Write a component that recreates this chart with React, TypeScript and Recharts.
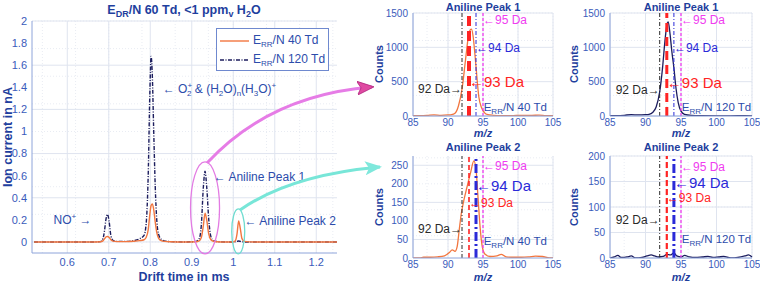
import React from "react";
import {
  LineChart,
  Line,
  XAxis,
  YAxis,
  CartesianGrid,
  ReferenceLine,
  ReferenceDot,
  Legend,
} from "recharts";

const FONT = '"Liberation Sans", Arial, Helvetica, sans-serif';
const TICK = "#3a5bbb";
const LABEL = "#1f3f9e";
const NOTE = "#2c4cab";
const BOX = "#8ea4da";
const GRID = "#dfe4ef";
const GRID_MINOR = "#e9ecf3";
const ORANGE = "#f2763f";
const NAVY = "#1c1d5e";

// drift time spectrum (ms / nA)
const driftTime = [
  0.52, 0.6, 0.66, 0.68, 0.686, 0.69, 0.693, 0.697, 0.701, 0.705, 0.71, 0.72,
  0.74, 0.76, 0.775, 0.785, 0.79, 0.795, 0.799, 0.802, 0.805, 0.808, 0.812,
  0.816, 0.82, 0.826, 0.835, 0.85, 0.88, 0.91, 0.918, 0.923, 0.928, 0.932,
  0.936, 0.941, 0.946, 0.952, 0.96, 0.98, 1.0, 1.005, 1.009, 1.013, 1.017,
  1.021, 1.027, 1.05, 1.1, 1.15, 1.2, 1.25,
];
const current40Td = [
  0, 0, 0, 0.002, 0.01, 0.03, 0.045, 0.05, 0.04, 0.02, 0.007, 0.003, 0.003,
  0.006, 0.012, 0.02, 0.04, 0.11, 0.25, 0.33, 0.345, 0.3, 0.18, 0.08, 0.035,
  0.012, 0.005, 0.002, 0, 0.002, 0.01, 0.04, 0.15, 0.26, 0.2, 0.07, 0.02,
  0.006, 0.002, 0, 0, 0.01, 0.07, 0.19, 0.12, 0.03, 0.005, 0, 0, 0, 0, 0,
];
const current120Td = [
  0, 0, 0, 0.003, 0.03, 0.11, 0.2, 0.25, 0.18, 0.06, 0.015, 0.005, 0.005,
  0.012, 0.03, 0.06, 0.16, 0.6, 1.35, 1.68, 1.5, 1.05, 0.5, 0.18, 0.07, 0.025,
  0.008, 0.003, 0, 0.004, 0.03, 0.15, 0.5, 0.64, 0.5, 0.2, 0.05, 0.012, 0.004,
  0, 0, 0.002, 0.005, 0.008, 0.005, 0.002, 0, 0, 0, 0, 0, 0,
];
const driftTicks = [0.6, 0.7, 0.8, 0.9, 1, 1.1, 1.2];
const currentTicks = [0, 0.2, 0.4, 0.6, 0.8, 1, 1.2, 1.4, 1.6, 1.8, 2];

// mass spectra (m/z / counts)
const mzP1Low = [
  85, 86, 87, 88, 89, 90, 90.5, 91, 91.5, 92, 92.5, 92.9, 93.15, 93.35, 93.6,
  93.8, 94, 94.4, 94.8, 95.2, 95.7, 96.5, 97.5, 99, 100.5, 102, 103, 104, 105,
];
const countsP1Low = [
  5, 5, 8, 15, 10, 15, 20, 40, 150, 390, 815, 1150, 1250, 1265, 1150, 950, 720,
  280, 120, 50, 20, 10, 5, 5, 10, 10, 12, 6, 5,
];
const mzP1High = [
  85, 86, 87, 88, 89, 90, 90.5, 91, 91.5, 92, 92.4, 92.7, 93, 93.2, 93.45,
  93.7, 94, 94.3, 94.6, 95, 95.5, 96.5, 98, 100, 102, 104, 105,
];
const countsP1High = [
  5, 5, 10, 20, 15, 20, 25, 50, 130, 350, 700, 1050, 1320, 1370, 1200, 950,
  700, 400, 200, 70, 25, 10, 5, 3, 3, 6, 3,
];
const mzP2Low = [
  85, 86, 86.5, 87.5, 88.5, 89.5, 90.2, 90.6, 91, 91.3, 91.6, 91.9, 92.2, 92.7,
  93.2, 93.7, 94, 94.3, 94.6, 94.9, 95.3, 96, 97, 97.6, 98.3, 99.5, 100.5,
  101.5, 102.5, 103.5, 104.5, 105,
];
const countsP2Low = [
  0, 0, 2, 2, 3, 6, 15, 22, 18, 30, 75, 120, 150, 190, 228, 262, 240, 160, 80,
  30, 10, 4, 6, 10, 3, 2, 2, 3, 5, 4, 0, 0,
];
const mzP2High = [
  85, 85.6, 86.1, 86.6, 87.4, 88, 88.6, 89.5, 90.2, 90.8, 91.3, 91.8, 92.5, 93,
  93.5, 94, 94.4, 95, 95.5, 96.2, 97, 98, 98.8, 99.5, 100.3, 101, 102, 103, 104,
  104.5, 105,
];
const countsP2High = [
  0, 2, 5, 1, 2, 4, 0, 1, 4, 6, 4, 2, 3, 7, 6, 10, 4, 2, 5, 2, 1, 2, 3, 1, 2, 3,
  0, 1, 4, 6, 2,
];

const massLines = [92, 93, 94, 95];
const mzTicks = [85, 90, 95, 100, 105];
const countsTicksP1 = [0, 500, 1000, 1500];
const countsTicksP2Low = [0, 50, 100, 150, 200, 250];
const countsTicksP2High = [0, 50, 100, 150, 200];

const massColor = ["#2a2a2a", "#ff2424", "#2a2ad8", "#f03cf0"];

// grid helper (minor grid lines only)
function steps(a: number, b: number, s: number) {
  const out: number[] = [];
  for (let v = a; v <= b + 1e-9; v += s) out.push(+v.toFixed(4));
  return out;
}

type Seg = { t: string; o?: number; s?: number; dx?: number };

function rich(x: number, y: number, segs: Seg[], size: number, color: string, anchor = "start", weight = "normal") {
  let prev = 0;
  return (
    <text x={x} y={y + size * 0.36} fontSize={size} fill={color} fontFamily={FONT} textAnchor={anchor} fontWeight={weight}>
      {segs.map((g, i) => {
        const o = g.o ?? 0;
        const dy = o - prev;
        prev = o;
        return (
          <tspan key={i} dy={dy} dx={g.dx} fontSize={g.s}>
            {g.t}
          </tspan>
        );
      })}
    </text>
  );
}

function note(key: string, x: number, y: number, draw: (cx: number, cy: number) => React.ReactElement) {
  return <ReferenceDot key={key} x={x} y={y} r={0} ifOverflow="visible" shape={(p: any) => draw(p.cx, p.cy)} />;
}

function subRR(td: string): Seg[] {
  return [{ t: "E" }, { t: "RR", o: 3, s: 8 }, { t: "/N " + td }];
}

const mainData = driftTime.map((t, i) => ({ t, low: current40Td[i], high: current120Td[i] }));

function LegendBox() {
  const rows = [
    { td: "40 Td", color: ORANGE, dash: undefined as string | undefined },
    { td: "120 Td", color: NAVY, dash: "4 1.5 1 1.5" },
  ];
  return (
    <div
      style={{
        border: "1px solid #6f89cf",
        background: "#fff",
        width: 113,
        height: 43,
        boxSizing: "border-box",
        padding: "2px 0 0 3px",
        fontFamily: FONT,
        fontSize: 12,
        color: NOTE,
      }}
    >
      {rows.map((r) => (
        <div key={r.td} style={{ display: "flex", alignItems: "center", height: 19 }}>
          <svg width={30} height={10} style={{ marginRight: 3 }}>
            <line x1={0} y1={5} x2={29} y2={5} stroke={r.color} strokeWidth={1.4} strokeDasharray={r.dash} />
          </svg>
          <span>
            E<span style={{ fontSize: 8, verticalAlign: -3 }}>RR</span>/N {r.td}
          </span>
        </div>
      ))}
    </div>
  );
}

function DriftChart() {
  const axisTick = { fill: TICK, fontSize: 11, fontFamily: FONT };
  return (
    <LineChart width={380} height={285} data={mainData} margin={{ top: 21, right: 43, bottom: 0, left: 0 }}>
      <CartesianGrid stroke={GRID_MINOR} strokeDasharray="1 2" verticalValues={steps(0.52, 1.24, 0.02)} horizontalValues={steps(-0.1, 2, 0.05)} />
      <CartesianGrid stroke={GRID} verticalValues={driftTicks} horizontalValues={currentTicks} />
      <XAxis dataKey="t" type="number" domain={[0.515, 1.25]} ticks={driftTicks} height={32} tickLine={false} tickSize={3} tickMargin={2} stroke={BOX} tick={axisTick} allowDataOverflow />
      <YAxis type="number" domain={[-0.1, 2]} ticks={currentTicks} width={32} tickLine={false} tickSize={3} tickMargin={2} stroke={BOX} tick={axisTick} allowDataOverflow />
      <XAxis xAxisId="top" orientation="top" height={0} tick={false} tickLine={false} stroke={BOX} />
      <YAxis yAxisId="right" orientation="right" width={0} tick={false} tickLine={false} stroke={BOX} />
      <Legend layout="vertical" align="center" verticalAlign="middle" wrapperStyle={{ left: 216, top: 28, width: 113 }} content={() => <LegendBox />} />
      <Line dataKey="high" type="monotone" stroke={NAVY} strokeWidth={1.4} strokeDasharray="4 1.5 1 1.5" dot={false} isAnimationActive={false} />
      <Line dataKey="low" type="monotone" stroke={ORANGE} strokeWidth={1.4} dot={false} isAnimationActive={false} />
      {note("pinkRing", 0.932, 0.308, (cx, cy) => (
        <ellipse cx={cx} cy={cy} rx={14.5} ry={46} fill="none" stroke="#e37be3" strokeWidth={1.3} />
      ))}
      {note("cyanRing", 1.012, 0.095, (cx, cy) => (
        <ellipse cx={cx} cy={cy} rx={6.5} ry={22.5} fill="none" stroke="#6fdcd0" strokeWidth={1.3} />
      ))}
      {note("o2", 0.83, 1.39, (cx, cy) =>
        rich(cx, cy, [
          { t: "\u2190 O" },
          { t: "+", o: -5, s: 8 },
          { t: "2", o: 3, s: 8, dx: -5 },
          { t: " & (H" },
          { t: "2", o: 3, s: 8 },
          { t: "O)" },
          { t: "n", o: 3, s: 8 },
          { t: "(H" },
          { t: "3", o: 3, s: 8 },
          { t: "O)" },
          { t: "+", o: -5, s: 8 },
        ], 12, NOTE)
      )}
      {note("no", 0.567, 0.2, (cx, cy) =>
        rich(cx, cy, [{ t: "NO" }, { t: "+", o: -5, s: 8 }, { t: " \u2192" }], 12, NOTE)
      )}
      {note("peak1", 0.953, 0.59, (cx, cy) => rich(cx, cy, [{ t: "\u2190 Aniline Peak 1" }], 12, NOTE))}
      {note("peak2", 1.027, 0.19, (cx, cy) => rich(cx, cy, [{ t: "\u2190 Aniline Peak 2" }], 12, NOTE))}
    </LineChart>
  );
}

type Panel = {
  left: number;
  top: number;
  height: number;
  yWidth: number;
  right: number;
  mTop: number;
  xHeight: number;
  mz: number[];
  counts: number[];
  color: string;
  dash?: string;
  yMax: number;
  yTicks: number[];
  yMinor: number;
  widths: number[];
  dashes: string[];
  labelY: number[];
  labelSize: number[];
  td: string;
  tdY: number;
};

function SpectrumPanel({ p }: { p: Panel }) {
  const data = p.mz.map((m, i) => ({ m, c: p.counts[i] }));
  const axisTick = { fill: TICK, fontSize: 10, fontFamily: FONT };
  return (
    <div style={{ position: "absolute", left: p.left, top: p.top }}>
      <LineChart width={190} height={p.height} data={data} margin={{ top: p.mTop, right: p.right, bottom: 0, left: 0 }}>
        <CartesianGrid stroke={GRID_MINOR} strokeDasharray="1 2" verticalValues={steps(85, 105, 1)} horizontalValues={steps(0, p.yMax, p.yMinor)} />
        <CartesianGrid stroke={GRID} verticalValues={mzTicks} horizontalValues={p.yTicks} />
        <XAxis dataKey="m" type="number" domain={[85, 105]} ticks={mzTicks} height={p.xHeight} tickLine={false} tickSize={0} tickMargin={2.5} stroke={BOX} tick={axisTick} />
        <YAxis type="number" domain={[0, p.yMax]} ticks={p.yTicks} width={p.yWidth} tickLine={false} tickSize={2} tickMargin={3} stroke={BOX} tick={axisTick} allowDataOverflow />
        <XAxis xAxisId="top" orientation="top" height={0} tick={false} tickLine={false} stroke={BOX} />
        <YAxis yAxisId="right" orientation="right" width={0} tick={false} tickLine={false} stroke={BOX} />
        <Line dataKey="c" type="monotone" stroke={p.color} strokeWidth={1.3} strokeDasharray={p.dash} dot={false} isAnimationActive={false} />
        {massLines.map((m, i) => (
          <ReferenceLine key={m} x={m} stroke={massColor[i]} strokeWidth={p.widths[i]} strokeDasharray={p.dashes[i]} />
        ))}
        {massLines.map((m, i) =>
          note("lab" + m, m, p.labelY[i], (cx, cy) =>
            i === 0
              ? rich(cx, cy, [{ t: m + " Da\u2192" }], p.labelSize[i], massColor[i], "end")
              : rich(cx, cy, [{ t: "\u2190" + m + " Da" }], p.labelSize[i], massColor[i])
          )
        )}
        {note("td", 95.1, p.tdY, (cx, cy) => rich(cx, cy, subRR(p.td), 11.5, NOTE))}
      </LineChart>
    </div>
  );
}

const panels: Panel[] = [
  {
    left: 380, top: 0, height: 140, yWidth: 33, right: 17, mTop: 13, xHeight: 24,
    mz: mzP1Low, counts: countsP1Low, color: ORANGE, yMax: 1500, yTicks: countsTicksP1, yMinor: 100,
    widths: [1, 4, 1, 1.3], dashes: ["4 2 1 2", "10 5", "4 2 1 2", "3 2"],
    labelY: [400, 500, 1000, 1400], labelSize: [12, 15, 12, 12], td: "40 Td", tdY: 127,
  },
  {
    left: 570, top: 0, height: 140, yWidth: 40, right: 8, mTop: 13, xHeight: 24,
    mz: mzP1High, counts: countsP1High, color: NAVY, yMax: 1500, yTicks: countsTicksP1, yMinor: 100,
    widths: [1, 3, 1, 1.3], dashes: ["4 2 1 2", "9 5", "4 2 1 2", "3 2"],
    labelY: [390, 490, 990, 1400], labelSize: [12, 15, 12, 12], td: "120 Td", tdY: 127,
  },
  {
    left: 380, top: 140, height: 145, yWidth: 33, right: 17, mTop: 16, xHeight: 27,
    mz: mzP2Low, counts: countsP2Low, color: ORANGE, yMax: 275, yTicks: countsTicksP2Low, yMinor: 10,
    widths: [1, 1.6, 3, 1.3], dashes: ["4 2 1 2", "5 3", "9 3 2 3", "3 2"],
    labelY: [78, 150, 195, 250], labelSize: [12, 12, 15, 12], td: "40 Td", tdY: 45,
  },
  {
    left: 570, top: 140, height: 145, yWidth: 40, right: 8, mTop: 16, xHeight: 27,
    mz: mzP2High, counts: countsP2High, color: NAVY, yMax: 200, yTicks: countsTicksP2High, yMinor: 10,
    widths: [1, 2.2, 3, 1.3], dashes: ["4 2 1 2", "6 3", "9 3 2 3", "3 2"],
    labelY: [76, 119, 147, 179], labelSize: [12, 12, 15, 12], td: "120 Td", tdY: 37,
  },
];

function Overlay() {
  const bold = { fontFamily: FONT, fontWeight: 700, fill: LABEL };
  return (
    <svg width={760} height={285} style={{ position: "absolute", left: 0, top: 0, pointerEvents: "none" }}>
      <defs>
        <marker id="headPink" markerUnits="userSpaceOnUse" markerWidth={18} markerHeight={14} refX={15} refY={7} orient="auto">
          <path d="M0,0 L17,7 L0,14 L4,7 z" fill="#df4aa2" stroke="#b0237c" strokeWidth={0.8} />
        </marker>
        <marker id="headCyan" markerUnits="userSpaceOnUse" markerWidth={18} markerHeight={14} refX={15} refY={7} orient="auto">
          <path d="M0,0 L17,7 L0,14 L4,7 z" fill="#7fe8dc" />
        </marker>
      </defs>
      {rich(184, 9, [
        { t: "E" }, { t: "DR", o: 3, s: 9 }, { t: "/N 60 Td, <1 ppm" }, { t: "v", o: 3, s: 9 }, { t: " H" }, { t: "2", o: 3, s: 9 }, { t: "O" },
      ], 12.5, LABEL, "middle", "700")}
      <text x={184} y={281} textAnchor="middle" fontSize={12.5} {...bold}>Drift time in ms</text>
      <text x={12} y={137} textAnchor="middle" fontSize={12.5} transform="rotate(-90 12 137)" {...bold}>Ion current in nA</text>
      {[
        { x: 483, y: 7, t: "Aniline Peak 1" },
        { x: 681, y: 7, t: "Aniline Peak 1" },
        { x: 483, y: 147, t: "Aniline Peak 2" },
        { x: 681, y: 147, t: "Aniline Peak 2" },
      ].map((d, i) => (
        <text key={"t" + i} x={d.x} y={d.y + 4} textAnchor="middle" fontSize={11} {...bold}>{d.t}</text>
      ))}
      {[
        { x: 383, y: 64 },
        { x: 578, y: 64 },
        { x: 383, y: 207 },
        { x: 578, y: 207 },
      ].map((d, i) => (
        <text key={"c" + i} x={d.x} y={d.y} textAnchor="middle" fontSize={11} transform={`rotate(-90 ${d.x} ${d.y})`} {...bold}>Counts</text>
      ))}
      {[
        { x: 483, y: 137 },
        { x: 681, y: 137 },
        { x: 483, y: 281 },
        { x: 681, y: 281 },
      ].map((d, i) => (
        <text key={"m" + i} x={d.x} y={d.y} textAnchor="middle" fontSize={11} fontStyle="italic" {...bold}>m/z</text>
      ))}
      <path d="M207 163 Q270 95 372 87" fill="none" stroke="#e67ce6" strokeWidth={3} markerEnd="url(#headPink)" />
      <path d="M240 210 Q290 175 380 167" fill="none" stroke="#78e6d8" strokeWidth={3} markerEnd="url(#headCyan)" />
    </svg>
  );
}

export default function App() {
  return (
    <div style={{ position: "absolute", left: 0, top: 0, width: 760, height: 285, background: "#fff", fontFamily: FONT }}>
      <div style={{ position: "absolute", left: 0, top: 0 }}>
        <DriftChart />
      </div>
      {panels.map((p, i) => (
        <SpectrumPanel key={i} p={p} />
      ))}
      <Overlay />
    </div>
  );
}
